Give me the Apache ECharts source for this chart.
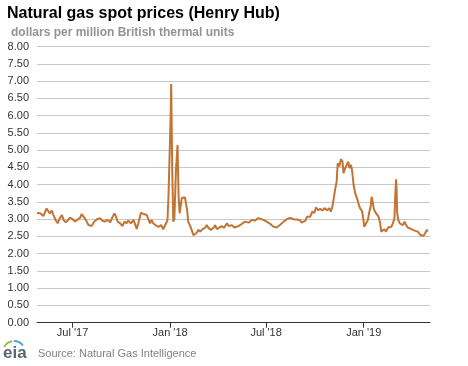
<!DOCTYPE html>
<html>
<head>
<meta charset="utf-8">
<script src="https://cdn.jsdelivr.net/npm/echarts@6/dist/echarts.min.js"></script>
<style>html,body{margin:0;padding:0;background:#fff}#c{width:468px;height:366px}</style>
</head>
<body>
<div id="c"></div>
<script>
const titleText = 'Natural gas spot prices (Henry Hub)';
const subtitleText = 'dollars per million British thermal units';
const sourceText = 'Source: Natural Gas Intelligence';
const tickDates = ['2017-07-01', '2018-01-01', '2018-07-01', '2019-01-01'];
const tickLabels = ["Jul '17", "Jan '18", "Jul '18", "Jan '19"];
const dates = [
'2017-04-25','2017-05-01','2017-05-07','2017-05-13','2017-05-16','2017-05-19','2017-05-23','2017-05-26','2017-05-30','2017-06-03',
'2017-06-07','2017-06-11','2017-06-14','2017-06-18','2017-06-22','2017-06-26','2017-07-01','2017-07-06','2017-07-11','2017-07-15',
'2017-07-18','2017-07-21','2017-07-26','2017-07-31','2017-08-06','2017-08-11','2017-08-16','2017-08-22','2017-08-26','2017-08-31',
'2017-09-05','2017-09-10','2017-09-14','2017-09-18','2017-09-21','2017-09-24','2017-09-29','2017-10-03','2017-10-07','2017-10-11',
'2017-10-14','2017-10-19','2017-10-24','2017-10-27','2017-10-30','2017-11-02','2017-11-07','2017-11-12','2017-11-18','2017-11-21',
'2017-11-24','2017-11-27','2017-11-30','2017-12-04','2017-12-07','2017-12-10','2017-12-15','2017-12-19','2017-12-22','2017-12-27',
'2017-12-29','2018-01-02','2018-01-03','2018-01-05','2018-01-07','2018-01-09','2018-01-12','2018-01-15','2018-01-17','2018-01-19',
'2018-01-21','2018-01-23','2018-01-26','2018-01-29','2018-01-31','2018-02-02','2018-02-04','2018-02-08','2018-02-11','2018-02-14',
'2018-02-17','2018-02-20','2018-02-23','2018-02-27','2018-03-03','2018-03-08','2018-03-11','2018-03-14','2018-03-19','2018-03-24',
'2018-03-27','2018-03-30','2018-04-03','2018-04-08','2018-04-13','2018-04-18','2018-04-22','2018-04-27','2018-05-02','2018-05-10',
'2018-05-16','2018-05-22','2018-05-29','2018-06-04','2018-06-10','2018-06-16','2018-06-22','2018-06-26','2018-07-02','2018-07-09',
'2018-07-15','2018-07-21','2018-07-27','2018-08-03','2018-08-09','2018-08-15','2018-08-22','2018-08-28','2018-09-03','2018-09-06',
'2018-09-13','2018-09-16','2018-09-19','2018-09-22','2018-09-26','2018-09-30','2018-10-03','2018-10-07','2018-10-11','2018-10-15',
'2018-10-19','2018-10-24','2018-10-28','2018-10-31','2018-11-03','2018-11-05','2018-11-08','2018-11-11','2018-11-13','2018-11-16',
'2018-11-19','2018-11-22','2018-11-24','2018-11-27','2018-11-30','2018-12-03','2018-12-05','2018-12-08','2018-12-10','2018-12-13',
'2018-12-16','2018-12-19','2018-12-22','2018-12-25','2018-12-29','2018-12-31','2019-01-02','2019-01-05','2019-01-09','2019-01-11',
'2019-01-14','2019-01-16','2019-01-18','2019-01-20','2019-01-23','2019-01-26','2019-01-29','2019-02-01','2019-02-03','2019-02-05',
'2019-02-09','2019-02-12','2019-02-16','2019-02-19','2019-02-22','2019-02-25','2019-02-28','2019-03-01','2019-03-03','2019-03-04',
'2019-03-05','2019-03-07','2019-03-10','2019-03-13','2019-03-16','2019-03-19','2019-03-22','2019-03-25','2019-03-28','2019-04-01',
'2019-04-04','2019-04-07','2019-04-10','2019-04-13','2019-04-18','2019-04-21','2019-04-24','2019-04-27','2019-04-30','2019-05-02'
];
const prices = [
3.18,3.17,3.09,3.31,3.26,3.17,3.25,3.12,2.98,2.88,
3.03,3.12,2.98,2.91,2.96,3.05,3.00,2.93,3.00,3.03,
3.15,3.09,2.98,2.83,2.80,2.93,3.00,3.03,2.96,2.93,
2.98,2.91,3.05,3.17,3.07,2.93,2.88,2.80,2.93,2.88,
2.96,2.88,2.98,2.93,2.72,2.88,3.19,3.15,3.12,3.07,
2.88,2.98,2.88,2.83,2.88,2.78,2.83,2.71,2.69,2.97,
3.70,6.00,6.92,4.43,2.93,3.00,4.43,5.15,3.65,3.17,
3.17,3.62,3.65,3.63,3.65,3.27,2.93,2.80,2.67,2.54,
2.58,2.60,2.69,2.64,2.71,2.75,2.83,2.75,2.69,2.75,
2.83,2.71,2.75,2.80,2.75,2.88,2.80,2.83,2.76,2.80,
2.86,2.93,2.90,2.98,2.96,3.03,3.00,2.98,2.93,2.86,
2.78,2.76,2.83,2.93,3.00,3.04,3.00,2.99,2.97,2.90,
2.96,3.07,3.12,3.07,3.22,3.18,3.34,3.26,3.30,3.25,
3.32,3.26,3.32,3.22,3.37,3.56,3.85,4.09,4.62,4.53,
4.74,4.67,4.33,4.48,4.57,4.67,4.48,4.57,4.42,3.99,
3.75,3.62,3.46,3.32,3.23,3.03,2.78,2.80,2.98,3.17,
3.36,3.65,3.50,3.30,3.20,3.14,3.07,2.88,2.64,2.59,
2.71,2.64,2.76,2.72,2.78,2.88,3.03,3.50,4.16,3.85,
3.20,2.98,2.88,2.89,2.83,2.93,2.83,2.76,2.78,2.71,
2.75,2.67,2.70,2.64,2.54,2.57,2.52,2.60,2.69,2.65
];
const xMin = '2017-04-25';
const xMax = '2019-05-06';

function ts(s) { const p = s.split('-').map(Number); return Date.UTC(p[0], p[1] - 1, p[2]); }
const tickTs = tickDates.map(ts);
const labelMap = {};
tickTs.forEach((t, i) => { labelMap[t] = tickLabels[i]; });

const chart = echarts.init(document.getElementById('c'), null, { renderer: 'canvas' });
const font = 'Arial, "Liberation Sans", sans-serif';
chart.setOption({
  animation: false,
  backgroundColor: '#fff',
  title: [
    { text: titleText, left: 2, top: 1, textStyle: { fontFamily: font, fontSize: 16, fontWeight: 'bold', color: '#000' } },
    { text: subtitleText, left: 6, top: 22, textStyle: { fontFamily: font, fontSize: 12, fontWeight: 'bold', color: '#939393' } }
  ],
  grid: { left: 37, right: 38, top: 46.7, bottom: 43.3, containLabel: false },
  xAxis: {
    type: 'value',
    min: ts(xMin),
    max: ts(xMax),
    scale: true,
    axisLine: { show: true, onZero: false, lineStyle: { color: '#333', width: 1 } },
    axisTick: { show: true, length: 5, inside: false, customValues: tickTs, lineStyle: { color: '#333' } },
    axisLabel: {
      customValues: tickTs,
      formatter: function (v) { return labelMap[v] || ''; },
      fontFamily: font, fontSize: 11, color: '#333', margin: 5
    },
    splitLine: { show: false }
  },
  yAxis: {
    type: 'value',
    min: 0, max: 8, interval: 0.5,
    axisLine: { show: false },
    axisTick: { show: false },
    axisLabel: { formatter: v => v.toFixed(2), fontFamily: font, fontSize: 11, color: '#333', margin: 8 },
    splitLine: { lineStyle: { color: '#c8c8c8', width: 1 } }
  },
  series: [{
    type: 'line',
    data: dates.map((d, i) => [ts(d), prices[i]]),
    showSymbol: false,
    lineStyle: { color: '#c27434', width: 2 },
    itemStyle: { color: '#c27434' }
  }],
  graphic: [
    { type: 'text', left: 38, top: 348, style: { text: sourceText, font: '11px ' + font, fill: '#808080' } },
    { type: 'text', left: 3, top: 345, style: { text: 'eia', font: 'bold 17px ' + font, fill: '#5a6570' } },
    { type: 'arc', shape: { cx: 14, cy: 352, r: 11, startAngle: Math.PI * 1.15, endAngle: Math.PI * 1.45 }, style: { stroke: '#8dc63f', lineWidth: 2, fill: null } },
    { type: 'arc', shape: { cx: 14, cy: 352, r: 11, startAngle: Math.PI * 1.5, endAngle: Math.PI * 1.8 }, style: { stroke: '#4aa3df', lineWidth: 2, fill: null } }
  ]
});
</script>
</body>
</html>
